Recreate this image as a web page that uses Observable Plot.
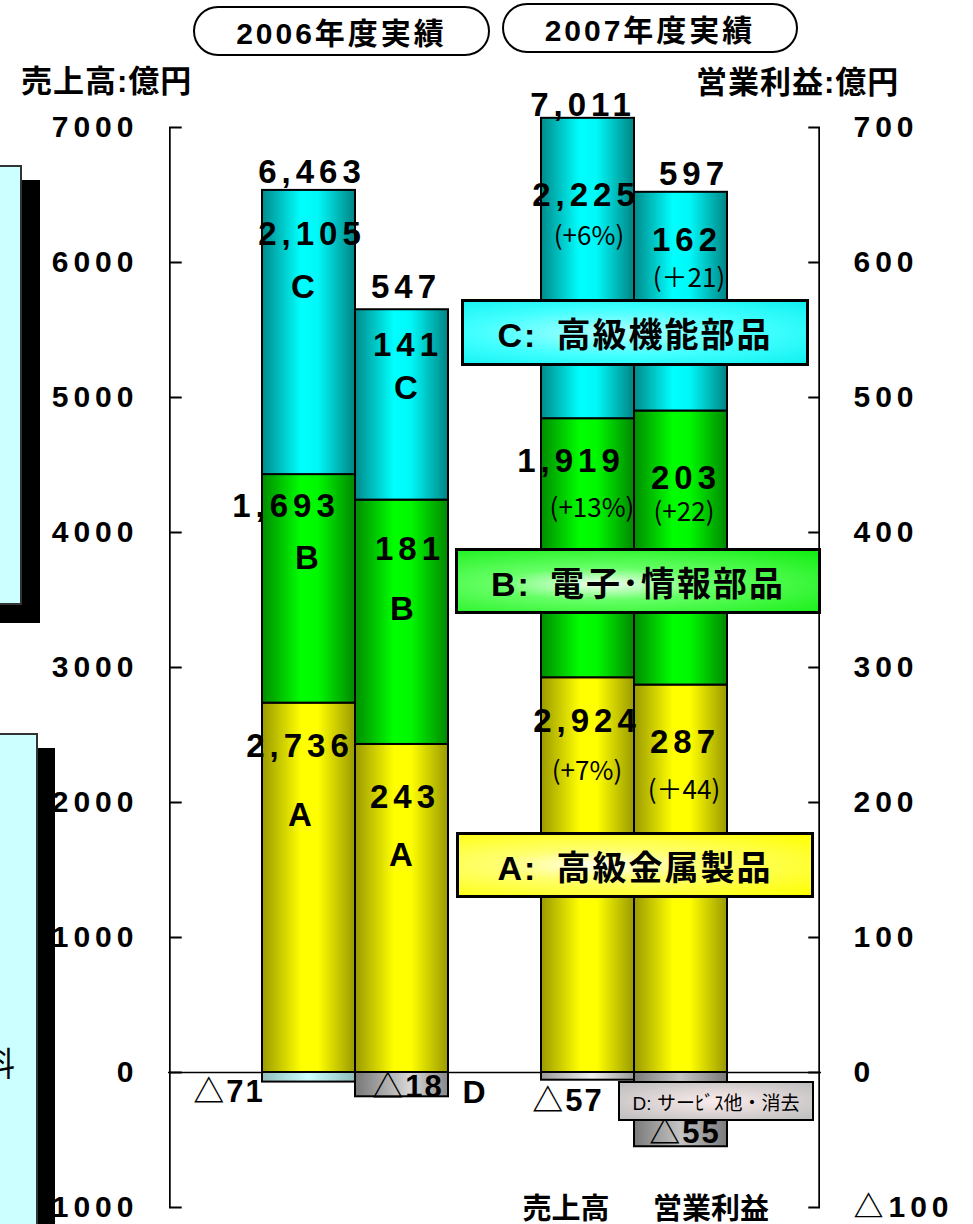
<!DOCTYPE html>
<html><head><meta charset="utf-8">
<script src="https://cdn.jsdelivr.net/npm/d3@7"></script>
<script src="https://cdn.jsdelivr.net/npm/@observablehq/plot@0.6"></script>
<style>
html,body{margin:0;padding:0;background:#fff;}
#wrap{position:relative;width:973px;height:1224px;overflow:hidden;font-family:"Liberation Sans",Arial,"Noto Sans CJK JP",sans-serif;color:#000;}
#wrap svg{position:absolute;left:0;top:0;}
.ov{position:absolute;box-sizing:border-box;}
.pill{border:2.5px solid #000;border-radius:26px;background:#fff;font-weight:bold;font-size:30px;letter-spacing:3px;display:flex;align-items:center;justify-content:center;}
.unit{font-weight:bold;font-size:31px;line-height:32px;white-space:nowrap;letter-spacing:1px;}
.legend{border:3px solid #000;font-weight:bold;font-size:34px;letter-spacing:2px;display:flex;align-items:center;justify-content:center;white-space:pre;}
#wrap text[aria-label="value label"]{letter-spacing:5px;}
#wrap text[aria-label="total label"]{letter-spacing:5px;}
#wrap text[aria-label="neg label"]{letter-spacing:2px;}
#wrap g[aria-label="y-axis tick label"] text{letter-spacing:5px;}
</style>
</head><body>
<div id="wrap"></div>
<script>
// ---------------- data ----------------
const barKeys = ["s06", "p06", "s07", "p07"];      // 2006 売上高, 2006 営業利益, 2007 売上高, 2007 営業利益
const barIsProfit = [false, true, false, true];
const segments = ["A", "B", "C", "D"];
const sales2006 = [2736, 1693, 2105, -71];
const profit2006 = [243, 181, 141, -18];
const sales2007 = [2924, 1919, 2225, -57];
const profit2007 = [287, 203, 162, -55];
const salesGrowth2007 = ["(+7%)", "(+13%)", "(+6%)"];
const profitGrowth2007 = ["(＋44)", "(+22)", "(＋21)"];
const yTicks = [-1000, 0, 1000, 2000, 3000, 4000, 5000, 6000, 7000];
const yDomain = [-1000, 7000];
const profitToSales = 10;   // right axis (営業利益) = left axis (売上高) / 10
const slots = ["axisL", "s06", "p06", "gap", "s07", "p07", "axisR"];
const headers = ["2006年度実績", "2007年度実績"];
const legendTexts = ["C:\u2002高級機能部品", "B:\u2002電子･情報部品", "A:\u2002高級金属製品", "D: サーﾋﾞｽ他・消去"];
const axisTitles = ["売上高:億円", "営業利益:億円"];
const bottomLabels = ["売上高", "営業利益"];

// ---------------- layout / style ----------------
const W = 973, H = 1224, mL = 168, mR = 152, mT = 127, mB = 17;
const bw = (W - mL - mR) / slots.length;
const FONT = '"Liberation Sans", Arial, "Noto Sans CJK JP", sans-serif';
const NARROW = '"Liberation Sans Narrow", "Arial Narrow", "Noto Sans CJK JP", sans-serif';
// [dx, dy] for value label and sub label of each segment; total label offset
const labelOffsets = {
  s06: {total: [3, -18], A: [[-9, 43], [-9, 112]], B: [[-23, 32], [-2, 84]], C: [[3, 44], [-6, 97]]},
  p06: {total: [4, -22], A: [[3, 53], [-1, 111]], B: [[8, 49], [0, 109]], C: [[6, 36], [4, 79]]},
  s07: {total: [-5, -13], A: [[-1, 44], [-1, 94]], B: [[-17, 43], [4, 90]], C: [[-2, 77], [1, 118]]},
  p07: {total: [13, -18], A: [[4, 57], [3, 106]], B: [[5, 67], [3, 102]], C: [[6, 48], [8, 86]]}
};
const negOffsets = {s06: [-80, 10], p06: [6, -10], s07: [-20, 21], p07: [4, -14]};

const series = [sales2006, profit2006, sales2007, profit2007];
const fmtSales = d3.format(",");
const fmtVal = (v, profit) => v < 0 ? "△" + Math.abs(v) : (profit ? String(v) : fmtSales(v));
const fillFor = (bar, seg) => seg === "D" ? `url(#gD_${bar})` : `url(#g${seg})`;

const rows = [];
barKeys.forEach((b, i) => segments.forEach((s, j) => {
  const k = barIsProfit[i] ? profitToSales : 1;
  rows.push({bar: b, seg: s, value: series[i][j] * k, fill: fillFor(b, s)});
}));

const marks = [];
marks.push(Plot.ruleY([0], {stroke: "#000", strokeWidth: 1.5}));
marks.push(Plot.barY(rows, {x: "bar", y: "value", fill: "fill", stroke: "#000", strokeWidth: 2}));
// axis lines
marks.push(Plot.barY([yDomain], {x: () => "axisL", y1: d => d[0], y2: d => d[1], fill: "#000", insetRight: bw - 2}));
marks.push(Plot.barY([yDomain], {x: () => "axisR", y1: d => d[0], y2: d => d[1], fill: "#000", insetLeft: bw - 2}));
// inward ticks
marks.push(Plot.tickY(yTicks, {x: () => "axisL", y: d => d, stroke: "#000", strokeWidth: 2, insetRight: bw - 13}));
marks.push(Plot.tickY(yTicks, {x: () => "axisR", y: d => d, stroke: "#000", strokeWidth: 2, insetLeft: bw - 12}));
marks.push(Plot.axisY({anchor: "left", ticks: yTicks, tickSize: 0, tickPadding: 30, label: null,
  tickFormat: d => d < 0 ? "△" + Math.abs(d) : String(d), fontSize: 30, fontWeight: "bold"}));
marks.push(Plot.axisY({anchor: "right", ticks: yTicks, tickSize: 0, tickPadding: 32, label: null,
  tickFormat: d => { const v = d / profitToSales; return v < 0 ? "△" + Math.abs(v) : String(v); }, fontSize: 30, fontWeight: "bold"}));

// segment labels
barKeys.forEach((b, i) => {
  const profit = barIsProfit[i];
  const k = profit ? profitToSales : 1;
  let cum = 0;
  ["A", "B", "C"].forEach((s, j) => {
    cum += series[i][j] * k;
    const [vo, so] = labelOffsets[b][s];
    marks.push(Plot.text([{bar: b, y: cum, t: fmtVal(series[i][j], profit)}],
      {x: "bar", y: "y", text: "t", dx: vo[0], dy: vo[1], fontSize: 33, fontWeight: "bold", ariaLabel: () => "value label"}));
    const sub = i < 2 ? s : (i === 2 ? salesGrowth2007[j] : profitGrowth2007[j]);
    marks.push(Plot.text([{bar: b, y: cum, t: sub}],
      {x: "bar", y: "y", text: "t", dx: so[0], dy: so[1],
       fontSize: i < 2 ? 33 : 26, fontWeight: i < 2 ? "bold" : "normal",
       fontFamily: i < 2 ? FONT : NARROW, ariaLabel: () => "sub label"}));
  });
  const total = d3.sum(series[i]);
  const [tdx, tdy] = labelOffsets[b].total;
  marks.push(Plot.text([{bar: b, y: cum, t: fmtVal(total, profit)}],
    {x: "bar", y: "y", text: "t", dx: tdx, dy: tdy, fontSize: 33, fontWeight: "bold", ariaLabel: () => "total label"}));
  const dv = series[i][3];
  const [ndx, ndy] = negOffsets[b];
  marks.push(Plot.text([{bar: b, y: dv * k, t: fmtVal(dv, profit)}],
    {x: "bar", y: "y", text: "t", dx: ndx, dy: ndy, fontSize: 31, fontWeight: "bold", ariaLabel: () => "neg label"}));
});
// "D" marker next to 2006 profit bar
marks.push(Plot.text([{bar: "p06", y: profit2006[3] * profitToSales, t: segments[3]}],
  {x: "bar", y: "y", text: "t", dx: 72, dy: -4, fontSize: 32, fontWeight: "bold"}));
// bottom bar labels
marks.push(Plot.text([bottomLabels[0]], {x: () => "s07", text: d => d, frameAnchor: "bottom", dx: -22, dy: 2, lineAnchor: "middle", fontSize: 29, fontWeight: "bold"}));
marks.push(Plot.text([bottomLabels[1]], {x: () => "p07", text: d => d, frameAnchor: "bottom", dx: 30, dy: 2, lineAnchor: "middle", fontSize: 29, fontWeight: "bold"}));

const chart = Plot.plot({
  width: W, height: H,
  marginLeft: mL, marginRight: mR, marginTop: mT, marginBottom: mB,
  style: {fontFamily: FONT, background: "#fff", overflow: "visible"},
  x: {type: "band", domain: slots, padding: 0, axis: null},
  y: {domain: yDomain},
  color: {type: "identity"},
  marks
});

// gradient definitions
const NS = "http://www.w3.org/2000/svg";
const defs = document.createElementNS(NS, "defs");
const grads = {
  gA: [[0, "#9a9a00"], [0.42, "#ffff00"], [0.6, "#ffff00"], [1, "#9a9a00"]],
  gB: [[0, "#008c00"], [0.42, "#00ff00"], [0.6, "#00f800"], [1, "#008800"]],
  gC: [[0, "#008a8a"], [0.42, "#00ffff"], [0.6, "#00f8f8"], [1, "#008484"]],
  gD_s06: [[0, "#8fbcbc"], [0.5, "#ccffff"], [1, "#8fbcbc"]],
  gD_p06: [[0, "#777777"], [0.6, "#d8d8d8"], [1, "#888888"]],
  gD_s07: [[0, "#999999"], [0.55, "#f0f0f0"], [1, "#999999"]],
  gD_p07: [[0, "#7a7a7a"], [0.5, "#c4c4c4"], [1, "#7a7a7a"]]
};
for (const [id, stops] of Object.entries(grads)) {
  const g = document.createElementNS(NS, "linearGradient");
  g.setAttribute("id", id); g.setAttribute("x1", "0"); g.setAttribute("x2", "1");
  g.setAttribute("y1", "0"); g.setAttribute("y2", "0");
  for (const [o, c] of stops) {
    const s = document.createElementNS(NS, "stop");
    s.setAttribute("offset", o); s.setAttribute("stop-color", c);
    g.appendChild(s);
  }
  defs.appendChild(g);
}
chart.insertBefore(defs, chart.firstChild);

const wrap = document.getElementById("wrap");
wrap.appendChild(chart);

function ov(html, css, cls) {
  const d = document.createElement("div");
  d.className = "ov " + (cls || "");
  d.style.cssText = css;
  d.innerHTML = html;
  wrap.appendChild(d);
  return d;
}
// cropped side panels at left
ov("", "left:-20px;top:180px;width:60px;height:443px;background:#000;");
ov("", "left:-20px;top:165px;width:42px;height:440px;background:#ccffff;border:2px solid #333;");
ov("", "left:-20px;top:748px;width:75px;height:520px;background:#000;");
ov("", "left:-20px;top:733px;width:58px;height:520px;background:#ccffff;border:2px solid #333;");
ov("料", "left:-18px;top:1046px;font-size:33px;line-height:1;font-family:'Noto Sans CJK JP',sans-serif;");
// headers
ov(headers[0], "left:193px;top:6px;width:297px;height:50px;", "pill");
ov(headers[1], "left:502px;top:3px;width:296px;height:50px;", "pill");
// axis titles
ov(axisTitles[0], "left:21px;top:66px;", "unit");
ov(axisTitles[1], "left:696px;top:67px;", "unit");
// legend boxes
ov(legendTexts[0], "left:461px;top:299px;width:348px;height:67px;background:radial-gradient(ellipse at 45% 50%, #b0ffff 0%, #40ffff 55%, #10f0f0 100%);", "legend");
ov(legendTexts[1], "left:455px;top:548px;width:366px;height:66px;background:radial-gradient(ellipse at 40% 55%, #f4fff4 0%, #66ff66 35%, #10ee10 100%);", "legend");
ov(legendTexts[2], "left:456px;top:832px;width:358px;height:66px;background:radial-gradient(ellipse at 40% 50%, #ffffee 0%, #ffff70 35%, #ffff00 100%);", "legend");
ov(legendTexts[3], "left:618px;top:1081px;width:196px;height:40px;border-width:2.5px;font-size:19px;font-weight:normal;letter-spacing:0;background:radial-gradient(ellipse at 50% 50%, #fbecec 0%, #dcd4d4 50%, #bdbdbd 100%);", "legend");
</script>
</body></html>
